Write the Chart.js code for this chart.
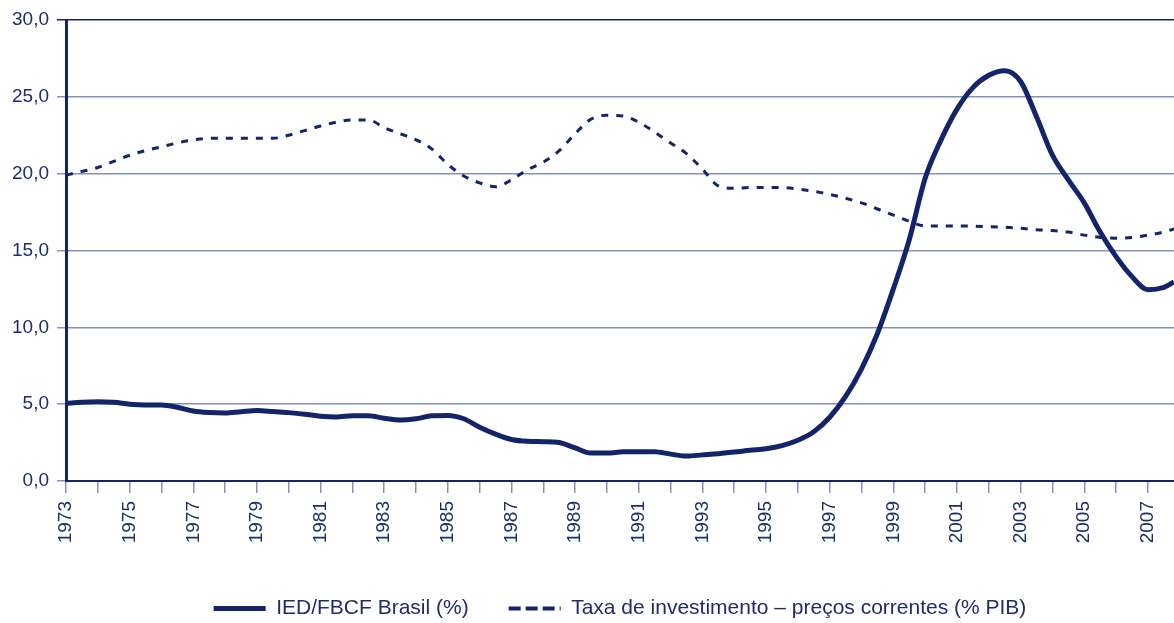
<!DOCTYPE html>
<html>
<head>
<meta charset="utf-8">
<script src="https://cdn.jsdelivr.net/npm/chart.js@4.4.0/dist/chart.umd.min.js"></script>
<style>
    html, body { margin: 0; padding: 0; background: #fff; overflow: hidden; }
    canvas { display: block; }
</style>
</head>
<body>
<canvas id="chart" width="1174" height="623"></canvas>
<script>
// IED/FBCF Brasil (%), half-year steps
const iedYears = [1973, 1973.5, 1974, 1974.5, 1975, 1975.5, 1976, 1976.5, 1977, 1977.5,
    1978, 1978.5, 1979, 1979.5, 1980, 1980.5, 1981, 1981.5, 1982, 1982.5,
    1983, 1983.5, 1984, 1984.5, 1985, 1985.5, 1986, 1986.5, 1987, 1987.5,
    1988, 1988.5, 1989, 1989.5, 1990, 1990.5, 1991, 1991.5, 1992, 1992.5,
    1993, 1993.5, 1994, 1994.5, 1995, 1995.5, 1996, 1996.5, 1997, 1997.5,
    1998, 1998.5, 1999, 1999.5, 2000, 2000.5, 2001, 2001.5, 2002, 2002.5,
    2003, 2003.5, 2004, 2004.5, 2005, 2005.5, 2006, 2006.5, 2007, 2007.5, 2007.82];
const iedValues = [5.05, 5.12, 5.15, 5.12, 5.0, 4.95, 4.95, 4.8, 4.55, 4.45,
    4.42, 4.5, 4.58, 4.52, 4.45, 4.35, 4.22, 4.17, 4.25, 4.25,
    4.08, 3.97, 4.05, 4.25, 4.27, 4.05, 3.5, 3.05, 2.7, 2.58,
    2.56, 2.5, 2.15, 1.82, 1.82, 1.9, 1.91, 1.9, 1.75, 1.62,
    1.7, 1.78, 1.88, 2.0, 2.1, 2.3, 2.65, 3.2, 4.15, 5.5,
    7.3, 9.6, 12.5, 15.7, 19.7, 22.2, 24.2, 25.6, 26.4, 26.7,
    26.0, 23.7, 21.2, 19.6, 18.1, 16.2, 14.6, 13.3, 12.45, 12.6, 12.95];

// Taxa de investimento - precos correntes (% PIB)
const taxaYears = [1973, 1973.5, 1974, 1974.5, 1975, 1975.5, 1976, 1976.5, 1977, 1977.5,
    1978, 1979, 1979.5, 1980, 1980.5, 1981, 1981.5, 1982, 1982.5,
    1983, 1983.5, 1984, 1984.5, 1985, 1985.5, 1986, 1986.5, 1987, 1987.5,
    1988, 1988.5, 1989, 1989.5, 1990, 1990.5, 1991, 1991.5, 1992, 1992.5,
    1993, 1993.5, 1994, 1994.5, 1995, 1995.5, 1996, 1996.5, 1997, 1997.5,
    1998, 1998.5, 1999, 1999.5, 2000, 2001, 2002, 2003, 2003.5, 2004, 2004.5,
    2005, 2005.5, 2006, 2006.5, 2007, 2007.5, 2007.82];
const taxaValues = [19.9, 20.15, 20.4, 20.8, 21.2, 21.5, 21.75, 22.0, 22.2, 22.3,
    22.3, 22.3, 22.3, 22.5, 22.8, 23.1, 23.35, 23.5, 23.5,
    23.0, 22.6, 22.2, 21.6, 20.6, 19.85, 19.4, 19.15, 19.6, 20.25,
    20.75, 21.5, 22.6, 23.55, 23.8, 23.75, 23.35, 22.7, 22.0, 21.3,
    20.3, 19.2, 19.05, 19.1, 19.1, 19.1, 19.0, 18.85, 18.65, 18.4,
    18.1, 17.7, 17.3, 16.9, 16.6, 16.6, 16.55, 16.45, 16.35, 16.3, 16.2,
    16.0, 15.85, 15.8, 15.85, 16.0, 16.2, 16.4];

const seriesNames = ['IED/FBCF Brasil (%)', 'Taxa de investimento – preços correntes (% PIB)'];

const yTicks = [0, 5, 10, 15, 20, 25, 30];

const navy = '#13246b';
const textColor = '#1d2c6d';
const gridColor = '#8591b9';

function toPoints(xs, ys) {
    return xs.map((x, i) => ({ x: x, y: ys[i] }));
}

const ctx = document.getElementById('chart');

new Chart(ctx, {
    type: 'line',
    data: {
        datasets: [{
            label: seriesNames[0],
            data: toPoints(iedYears, iedValues),
            borderColor: navy,
            backgroundColor: navy,
            borderWidth: 5,
            pointRadius: 0,
            cubicInterpolationMode: 'monotone'
        }, {
            label: seriesNames[1],
            data: toPoints(taxaYears, taxaValues),
            borderColor: navy,
            backgroundColor: navy,
            borderWidth: 3,
            borderDash: [7, 8],
            pointRadius: 0,
            cubicInterpolationMode: 'monotone'
        }]
    },
    options: {
        responsive: false,
        animation: false,
        layout: {
            padding: { top: 20, right: 0, left: 0, bottom: 0 }
        },
        plugins: {
            tooltip: { enabled: false },
            legend: {
                position: 'bottom',
                fullSize: false,
                maxHeight: 65,
                labels: {
                    color: textColor,
                    font: { family: 'Liberation Sans', size: 21 },
                    usePointStyle: true,
                    pointStyle: 'line',
                    pointStyleWidth: 52,
                    padding: 40,
                    generateLabels: (chart) => {
                        const items = Chart.defaults.plugins.legend.labels.generateLabels(chart);
                        items[0].lineWidth = 5;
                        items[1].lineWidth = 4;
                        items[1].lineDash = [12, 5];
                        return items;
                    }
                }
            }
        },
        scales: {
            x: {
                type: 'linear',
                min: 1973,
                max: 2007.82,
                afterFit: (scale) => {
                    scale.height = 77;
                    // plot runs right up to the canvas edge
                    scale.paddingRight = 0;
                    scale.paddingLeft = 0;
                },
                border: { display: true, color: navy, width: 2 },
                grid: {
                    drawOnChartArea: false,
                    drawTicks: true,
                    tickLength: 12,
                    color: gridColor,
                    lineWidth: 1.5
                },
                ticks: {
                    stepSize: 1,
                    includeBounds: false,
                    autoSkip: false,
                    minRotation: 90,
                    maxRotation: 90,
                    padding: 8,
                    color: textColor,
                    font: { family: 'Liberation Sans', size: 19 },
                    callback: (v) => (v % 2 === 1 ? String(v) : '')
                }
            },
            y: {
                min: yTicks[0],
                max: yTicks[yTicks.length - 1],
                afterFit: (scale) => { scale.width = 66; },
                afterBuildTicks: (scale) => {
                    scale.ticks = yTicks.map(v => ({ value: v }));
                },
                border: { display: true, color: navy, width: 3 },
                grid: {
                    color: (c) => (c.tick && c.tick.value === 30 ? navy : gridColor),
                    lineWidth: 1.5,
                    tickLength: 9
                },
                ticks: {
                    padding: 8,
                    color: textColor,
                    font: { family: 'Liberation Sans', size: 19 },
                    callback: (v) => v.toFixed(1).replace('.', ',')
                }
            }
        }
    }
});
</script>
</body>
</html>
